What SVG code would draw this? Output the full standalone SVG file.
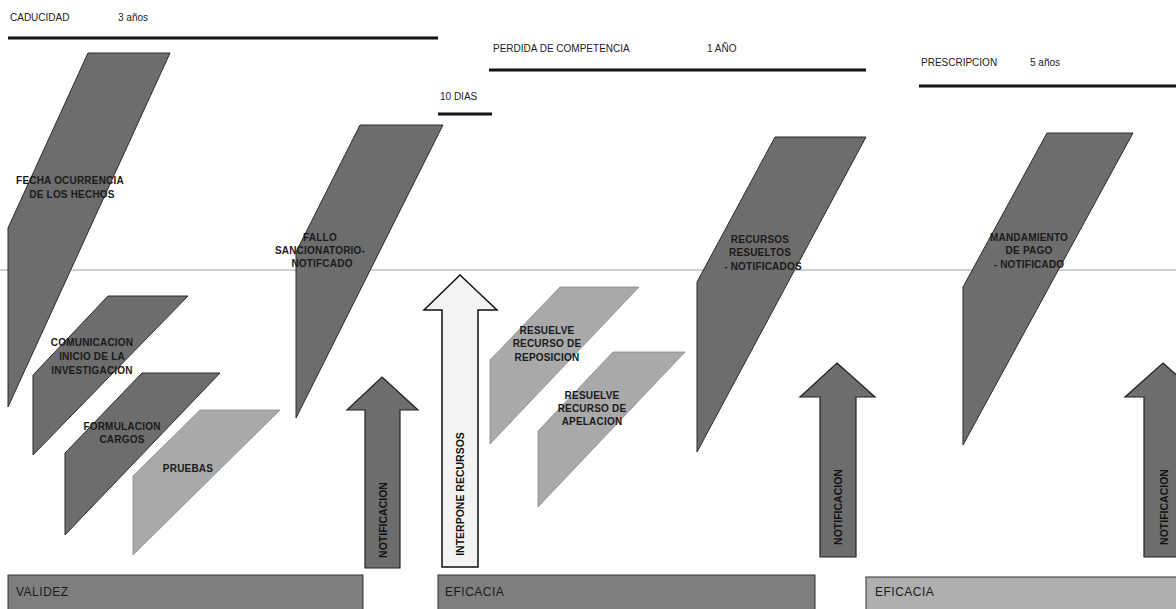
<svg xmlns="http://www.w3.org/2000/svg" width="1176" height="609" viewBox="0 0 1176 609">
<style>
.hdr{font-family:"Liberation Sans",Arial,sans-serif;font-size:10px;fill:#222}
.hl{stroke:#111;stroke-width:3}
.dk{fill:#6d6d6d;stroke:#2b2b2b;stroke-width:1}
.lt{fill:#a9a9a9;stroke:#8a8a8a;stroke-width:0.8}
.lbl{font-family:"Liberation Sans Narrow","Liberation Sans",Arial,sans-serif;font-size:10px;letter-spacing:0.2px;font-weight:bold;fill:#1a1a1a;text-anchor:middle}
.arr{fill:#6d6d6d;stroke:#222;stroke-width:1.2}
.arrw{fill:#f3f3f3;stroke:#111;stroke-width:1.5}
.at{font-family:"Liberation Sans",Arial,sans-serif;font-size:10.5px;font-weight:bold;fill:#111;text-anchor:middle}
.bar{stroke:#333;stroke-width:1}
.bt{font-family:"Liberation Sans",Arial,sans-serif;font-size:12px;letter-spacing:0.5px;fill:#1a1a1a}
</style>
<rect width="1176" height="609" fill="#ffffff"/>

<g id="headers">
<text class="hdr" x="10" y="21">CADUCIDAD</text>
<text class="hdr" x="118" y="21">3 años</text>
<line class="hl" x1="8" y1="38" x2="438" y2="38"/>
<text class="hdr" x="493" y="52">PERDIDA DE COMPETENCIA</text>
<text class="hdr" x="707" y="52">1 AÑO</text>
<line class="hl" x1="489" y1="70" x2="866" y2="70"/>
<text class="hdr" x="440" y="100">10 DIAS</text>
<line class="hl" x1="438" y1="114" x2="492" y2="114"/>
<text class="hdr" x="921" y="66">PRESCRIPCION</text>
<text class="hdr" x="1030" y="66">5 años</text>
<line class="hl" x1="919" y1="86" x2="1176" y2="86"/>
</g>

<g id="baseline">
<line x1="0" y1="270" x2="1176" y2="270" stroke="#a3a3a3" stroke-width="1"/>
</g>

<g id="fecha">
<polygon class="dk" points="88,53 170,53 8,407 8,228"/>
<text class="lbl" x="70" y="184">FECHA OCURRENCIA</text>
<text class="lbl" x="72" y="198">DE LOS HECHOS</text>
</g>

<g id="fallo">
<polygon class="dk" points="360,125 443,125 296,418 296,252"/>
<text class="lbl" x="320" y="241">FALLO</text>
<text class="lbl" x="320" y="254">SANCIONATORIO-</text>
<text class="lbl" x="322" y="267">NOTIFCADO</text>
</g>

<g id="recursos">
<polygon class="dk" points="775,137 866,137 697,452 697,282"/>
<text class="lbl" x="760" y="243">RECURSOS</text>
<text class="lbl" x="760" y="256">RESUELTOS</text>
<text class="lbl" x="763" y="270">- NOTIFICADOS</text>
</g>

<g id="mandamiento">
<polygon class="dk" points="1047,133 1133,133 963,445 963,287"/>
<text class="lbl" x="1029" y="241">MANDAMIENTO</text>
<text class="lbl" x="1029" y="254">DE PAGO</text>
<text class="lbl" x="1029" y="268">- NOTIFICADO</text>
</g>

<g id="comunicacion">
<polygon class="dk" points="108,296 188,296 33,455 33,375"/>
<text class="lbl" x="92" y="346">COMUNICACION</text>
<text class="lbl" x="92" y="360">INICIO DE LA</text>
<text class="lbl" x="92" y="374">INVESTIGACION</text>
</g>

<g id="formulacion">
<polygon class="dk" points="142,373 220,373 65,535 65,453"/>
<text class="lbl" x="122" y="430">FORMULACION</text>
<text class="lbl" x="122" y="443">CARGOS</text>
</g>

<g id="pruebas">
<polygon class="lt" points="200,410 280,410 133,555 133,476"/>
<text class="lbl" x="188" y="472">PRUEBAS</text>
</g>

<g id="reposicion">
<polygon class="lt" points="560,287 639,287 490,444 490,360"/>
<text class="lbl" x="547" y="334">RESUELVE</text>
<text class="lbl" x="547" y="347">RECURSO DE</text>
<text class="lbl" x="547" y="361">REPOSICION</text>
</g>

<g id="apelacion">
<polygon class="lt" points="613,352 685,352 538,507 538,431"/>
<text class="lbl" x="592" y="399">RESUELVE</text>
<text class="lbl" x="592" y="412">RECURSO DE</text>
<text class="lbl" x="592" y="425">APELACION</text>
</g>

<g id="connectors">
<g id="notif1">
<path class="arr" d="M382,377 L418,410 L400,410 L400,568 L365,568 L365,410 L347,410 Z"/>
<text class="at" transform="translate(387,520) rotate(-90)">NOTIFICACION</text>
</g>
<g id="interpone">
<path class="arrw" d="M460,275 L497,310 L478,310 L478,567 L442,567 L442,310 L424,310 Z"/>
<text class="at" transform="translate(464,494) rotate(-90)">INTERPONE RECURSOS</text>
</g>
<g id="notif2">
<path class="arr" d="M837,363 L875,397 L856,397 L856,557 L820,557 L820,397 L800,397 Z"/>
<text class="at" transform="translate(842,507) rotate(-90)">NOTIFICACION</text>
</g>
<g id="notif3">
<path class="arr" d="M1163,363 L1201,397 L1182,397 L1182,557 L1144,557 L1144,397 L1125,397 Z"/>
<text class="at" transform="translate(1168,507) rotate(-90)">NOTIFICACION</text>
</g>
</g>

<g id="validez">
<rect class="bar" x="8" y="575" width="355" height="40" fill="#7e7e7e"/>
<text class="bt" x="16" y="596">VALIDEZ</text>
</g>
<g id="eficacia1">
<rect class="bar" x="438" y="575" width="377" height="40" fill="#7e7e7e"/>
<text class="bt" x="445" y="596">EFICACIA</text>
</g>
<g id="eficacia2">
<rect class="bar" x="866" y="577" width="320" height="40" fill="#afafaf"/>
<text class="bt" x="875" y="596">EFICACIA</text>
</g>
</svg>
